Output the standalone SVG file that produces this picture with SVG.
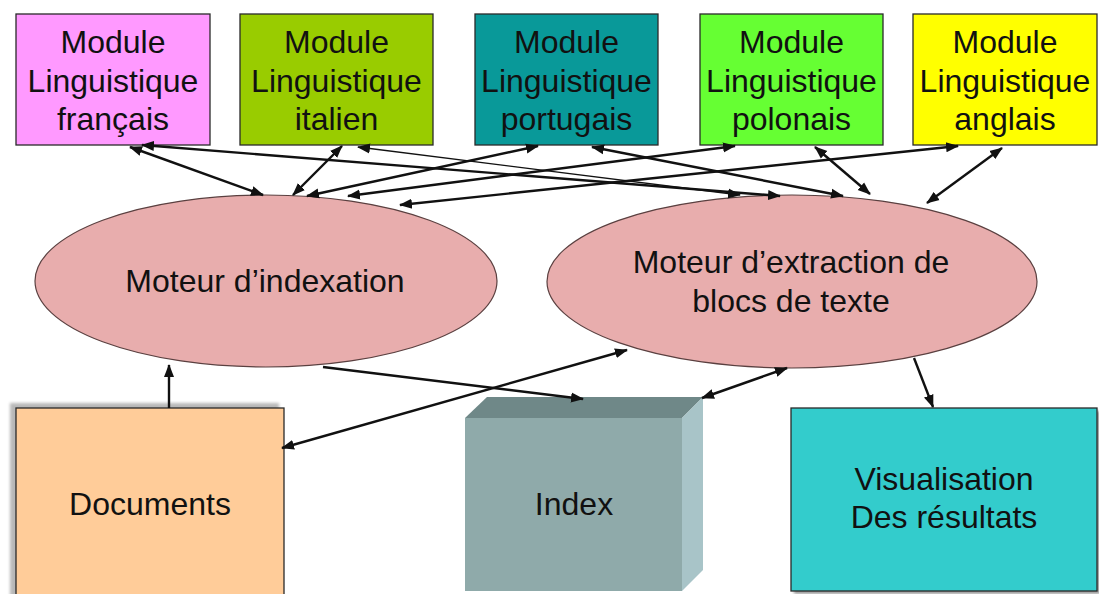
<svg xmlns="http://www.w3.org/2000/svg" width="1099" height="594" viewBox="0 0 1099 594">
<defs>
<style>
text{font-family:"Liberation Sans",Arial,sans-serif;font-size:32px;fill:#111;text-anchor:middle}
.box{stroke:#2a2a2a;stroke-width:1.3}
.ell{fill:#E8ADAD;stroke:#5a4040;stroke-width:1.2}
.con line{stroke:#111;stroke-width:2.4;fill:none}
.con line.thin{stroke-width:1.3}
.bi{marker-start:url(#ah);marker-end:url(#ah)}
.one{marker-end:url(#ah)}
</style>
<marker id="ah" markerUnits="userSpaceOnUse" markerWidth="14" markerHeight="12" refX="12" refY="5" orient="auto-start-reverse" viewBox="0 0 14 10">
<path d="M0,0 L13,5 L0,10 z" fill="#111"/>
</marker>
<filter id="blur" x="-10%" y="-10%" width="120%" height="120%"><feGaussianBlur stdDeviation="1.5"/></filter>
</defs>
<rect width="1099" height="594" fill="#fff"/>

<g id="mod-fr">
<rect class="box" x="16" y="14" width="194" height="131" fill="#FF99FF"/>
<text x="113" y="53">Module</text><text x="113" y="92">Linguistique</text><text x="113" y="130">français</text>
</g>
<g id="mod-it">
<rect class="box" x="240" y="14" width="193" height="131" fill="#99CC00"/>
<text x="336.5" y="53">Module</text><text x="336.5" y="92">Linguistique</text><text x="336.5" y="130">italien</text>
</g>
<g id="mod-pt">
<rect class="box" x="475" y="14" width="183" height="131" fill="#099999"/>
<text x="566.5" y="53">Module</text><text x="566.5" y="92">Linguistique</text><text x="566.5" y="130">portugais</text>
</g>
<g id="mod-pl">
<rect class="box" x="700" y="14" width="183" height="131" fill="#66FF33"/>
<text x="791.5" y="53">Module</text><text x="791.5" y="92">Linguistique</text><text x="791.5" y="130">polonais</text>
</g>
<g id="mod-en">
<rect class="box" x="913" y="14" width="184" height="131" fill="#FFFF00"/>
<text x="1005" y="53">Module</text><text x="1005" y="92">Linguistique</text><text x="1005" y="130">anglais</text>
</g>

<g id="moteur-indexation">
<ellipse class="ell" cx="266" cy="281" rx="231" ry="86"/>
<text x="265" y="292">Moteur d’indexation</text>
</g>
<g id="moteur-extraction">
<ellipse class="ell" cx="792" cy="281.5" rx="245" ry="86.5"/>
<text x="791" y="273">Moteur d’extraction de</text>
<text x="791" y="312">blocs de texte</text>
</g>

<g id="documents">
<rect x="10" y="403" width="269" height="200" fill="#B8B8B8" filter="url(#blur)"/>
<rect class="box" x="16" y="408" width="268" height="195" fill="#FFCC99"/>
<text x="150" y="515">Documents</text>
</g>
<g id="index">
<polygon points="465,418 487,397 703,397 682,418" fill="#6F8888"/>
<polygon points="682,418 703,397 703,570 682,591" fill="#A8C4C8"/>
<rect x="465" y="418" width="217" height="173" fill="#8FAAAA"/>
<text x="574" y="515">Index</text>
</g>
<g id="visualisation">
<rect x="794" y="411" width="306" height="183" fill="#9a9a9a" filter="url(#blur)"/>
<rect class="box" x="791" y="408" width="306" height="183" fill="#33CCCC"/>
<text x="944" y="490">Visualisation</text>
<text x="944" y="528">Des résultats</text>
</g>

<g id="connectors" class="con">
<line class="bi" x1="130" y1="147" x2="263" y2="195"/>
<line class="bi" x1="142" y1="145" x2="780" y2="196"/>
<line class="bi" x1="342" y1="146" x2="293" y2="195"/>
<line class="bi thin" x1="358" y1="147" x2="740" y2="195"/>
<line class="bi" x1="538" y1="146" x2="307" y2="196"/>
<line class="bi" x1="735" y1="146" x2="348" y2="196"/>
<line class="bi" x1="958" y1="146" x2="400" y2="205"/>
<line class="bi" x1="592" y1="147" x2="843" y2="196"/>
<line class="bi" x1="815" y1="147" x2="870" y2="194"/>
<line class="bi" x1="1002" y1="148" x2="927" y2="203"/>
<line class="one" x1="169" y1="408" x2="169" y2="365"/>
<line class="one" x1="323" y1="367" x2="583" y2="399"/>
<line class="bi" x1="282" y1="448" x2="627" y2="350"/>
<line class="bi" x1="702" y1="398" x2="787" y2="368"/>
<line class="one" x1="914" y1="358" x2="933" y2="407"/>
</g>
</svg>
